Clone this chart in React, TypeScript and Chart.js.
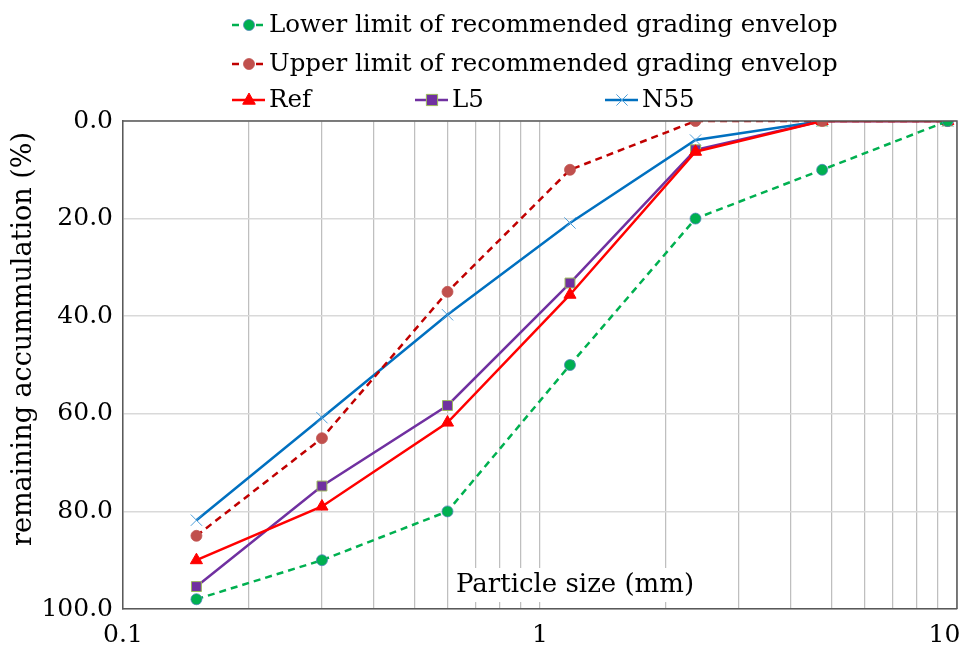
import React, { useEffect, useRef } from "react";
import { Chart, registerables } from "chart.js";

Chart.register(...registerables);

const sizes = [0.15, 0.3, 0.6, 1.18, 2.36, 4.75, 9.5];
const lowerLimit = [98, 90, 80, 50, 20, 10, 0];
const upperLimit = [85, 65, 35, 10, 0, 0, 0];
const refValues = [90, 79, 61.8, 35.6, 6.3, 0, 0];
const l5Values = [95.4, 74.8, 58.3, 33.2, 5.9, 0, 0];
const n55Values = [81.8, 60.8, 39.7, 20.9, 3.9, 0, 0];
const yTicks = [0, 20, 40, 60, 80, 100];
const xTickValues = [0.1, 0.2, 0.3, 0.4, 0.5, 0.6, 0.7, 0.8, 0.9, 1, 2, 3, 4, 5, 6, 7, 8, 9, 10];
const xLabels: Record<string, string> = { "0.1": "0.1", "1": "1", "10": "10\u2002\u2002" };

const FONT = "'DejaVu Serif', serif";

function pts(vals: number[]) {
  return sizes.map((s, i) => ({ x: s, y: vals[i] }));
}

function drawMarker(ctx: CanvasRenderingContext2D, ds: any, x: number, y: number) {
  const r = ds.pointRadius;
  ctx.save();
  ctx.setLineDash([]);
  ctx.fillStyle = ds.pointBackgroundColor;
  ctx.strokeStyle = ds.pointBorderColor;
  ctx.lineWidth = ds.pointBorderWidth;
  ctx.beginPath();
  if (ds.pointStyle === "circle") {
    ctx.arc(x, y, r, 0, Math.PI * 2);
    ctx.fill();
    ctx.stroke();
  } else if (ds.pointStyle === "triangle") {
    ctx.moveTo(x, y - r);
    ctx.lineTo(x + r * 0.9, y + r * 0.6);
    ctx.lineTo(x - r * 0.9, y + r * 0.6);
    ctx.closePath();
    ctx.fill();
    ctx.stroke();
  } else if (ds.pointStyle === "rect") {
    ctx.rect(x - r * 0.8, y - r * 0.8, r * 1.6, r * 1.6);
    ctx.fill();
    ctx.stroke();
  } else {
    const d = r * 0.7;
    ctx.moveTo(x - d, y - d);
    ctx.lineTo(x + d, y + d);
    ctx.moveTo(x + d, y - d);
    ctx.lineTo(x - d, y + d);
    ctx.stroke();
  }
  ctx.restore();
}

const legendPositions = [
  { x: 232, y: 25 },
  { x: 232, y: 64 },
  { x: 232, y: 100 },
  { x: 415, y: 100 },
  { x: 605, y: 100 },
];

const decorPlugin = {
  id: "decor",
  afterDraw(chart: any) {
    const ctx: CanvasRenderingContext2D = chart.ctx;
    const a = chart.chartArea;
    ctx.save();
    ctx.strokeStyle = "#595959";
    ctx.lineWidth = 1.5;
    ctx.beginPath();
    ctx.moveTo(a.left, a.top);
    ctx.lineTo(a.right, a.top);
    ctx.lineTo(a.right, a.bottom);
    ctx.stroke();

    ctx.font = `26px ${FONT}`;
    ctx.textAlign = "center";
    ctx.textBaseline = "middle";
    const xt = "Particle size (mm)";
    const w = ctx.measureText(xt).width;
    const cx = 575, cy = 585;
    ctx.fillStyle = "#ffffff";
    ctx.fillRect(cx - w / 2 - 4, cy - 17, w + 8, 34);
    ctx.fillStyle = "#000000";
    ctx.fillText(xt, cx, cy);

    ctx.save();
    ctx.translate(24, 339);
    ctx.rotate(-Math.PI / 2);
    ctx.font = `27px ${FONT}`;
    ctx.fillText("remaining accummulation (%)", 0, 0);
    ctx.restore();

    chart.data.datasets.forEach((ds: any, i: number) => {
      const p = legendPositions[i];
      ctx.save();
      ctx.strokeStyle = ds.borderColor;
      ctx.lineWidth = ds.borderWidth;
      ctx.setLineDash(ds.borderDash || []);
      ctx.beginPath();
      ctx.moveTo(p.x, p.y);
      ctx.lineTo(p.x + 33, p.y);
      ctx.stroke();
      ctx.restore();
      drawMarker(ctx, ds, p.x + 17, p.y);
      ctx.font = `24.5px ${FONT}`;
      ctx.textAlign = "left";
      ctx.textBaseline = "middle";
      ctx.fillStyle = "#000000";
      ctx.fillText(ds.label, p.x + 37, p.y + 1);
    });
    ctx.restore();
  },
};

export default function App() {
  const ref = useRef<HTMLCanvasElement>(null);
  useEffect(() => {
    document.body.style.margin = "0";
    const chart = new Chart(ref.current!, {
      type: "line",
      data: {
        datasets: [
          {
            label: "Lower limit of recommended grading envelop",
            data: pts(lowerLimit),
            borderColor: "#00B050",
            borderWidth: 2.5,
            borderDash: [7, 5],
            pointStyle: "circle",
            pointRadius: 5.5,
            pointBackgroundColor: "#00B050",
            pointBorderColor: "#4F81BD",
            pointBorderWidth: 0.75,
          },
          {
            label: "Upper limit of recommended grading envelop",
            data: pts(upperLimit),
            borderColor: "#C00000",
            borderWidth: 2.5,
            borderDash: [7, 5],
            pointStyle: "circle",
            pointRadius: 5.5,
            pointBackgroundColor: "#C0504D",
            pointBorderColor: "#C0504D",
            pointBorderWidth: 0.75,
          },
          {
            label: "Ref",
            data: pts(refValues),
            borderColor: "#FF0000",
            borderWidth: 2.5,
            pointStyle: "triangle",
            pointRadius: 7,
            pointBackgroundColor: "#FF0000",
            pointBorderColor: "#FF0000",
            pointBorderWidth: 1,
          },
          {
            label: "L5",
            data: pts(l5Values),
            borderColor: "#7030A0",
            borderWidth: 2.5,
            pointStyle: "rect",
            pointRadius: 7,
            pointBackgroundColor: "#7030A0",
            pointBorderColor: "#9BBB59",
            pointBorderWidth: 1,
          },
          {
            label: "N55",
            data: pts(n55Values),
            borderColor: "#0070C0",
            borderWidth: 2.5,
            pointStyle: "crossRot",
            pointRadius: 8,
            pointBackgroundColor: "#4F9FD9",
            pointBorderColor: "#4F9FD9",
            pointBorderWidth: 1,
          },
        ] as any,
      },
      options: {
        animation: false,
        responsive: false,
        layout: { autoPadding: false, padding: { top: 121, right: 6, left: 0, bottom: 0 } },
        plugins: { legend: { display: false }, tooltip: { enabled: false } },
        scales: {
          x: {
            type: "logarithmic",
            min: 0.1,
            max: 10,
            afterBuildTicks: (scale: any) => {
              scale.ticks = xTickValues.map((v) => ({ value: v }));
            },
            afterFit: (scale: any) => {
              scale.height = 40;
              scale.paddingLeft = 0;
              scale.paddingRight = 0;
            },
            grid: { color: "#BFBFBF", lineWidth: 1.25, drawTicks: false },
            border: { color: "#595959", width: 1.5 },
            ticks: {
              autoSkip: false,
              maxRotation: 0,
              padding: 11,
              color: "#000000",
              font: { family: FONT, size: 25 },
              callback: (v: any) => xLabels[String(v)] ?? "",
            },
          },
          y: {
            type: "linear",
            reverse: true,
            min: 0,
            max: 100,
            afterBuildTicks: (scale: any) => {
              scale.ticks = yTicks.map((v) => ({ value: v }));
            },
            afterFit: (scale: any) => {
              scale.width = 123;
            },
            grid: { color: "#D9D9D9", lineWidth: 1.5, drawTicks: false },
            border: { color: "#595959", width: 1.5 },
            ticks: {
              padding: 10,
              color: "#000000",
              font: { family: FONT, size: 25 },
              callback: (v: any) => Number(v).toFixed(1),
            },
          },
        },
      },
      plugins: [decorPlugin],
    });
    return () => chart.destroy();
  }, []);
  return (
    <div style={{ position: "fixed", left: 0, top: 0, width: 963, height: 649, background: "#fff" }}>
      <canvas ref={ref} width={963} height={649} style={{ width: 963, height: 649 }} />
    </div>
  );
}
